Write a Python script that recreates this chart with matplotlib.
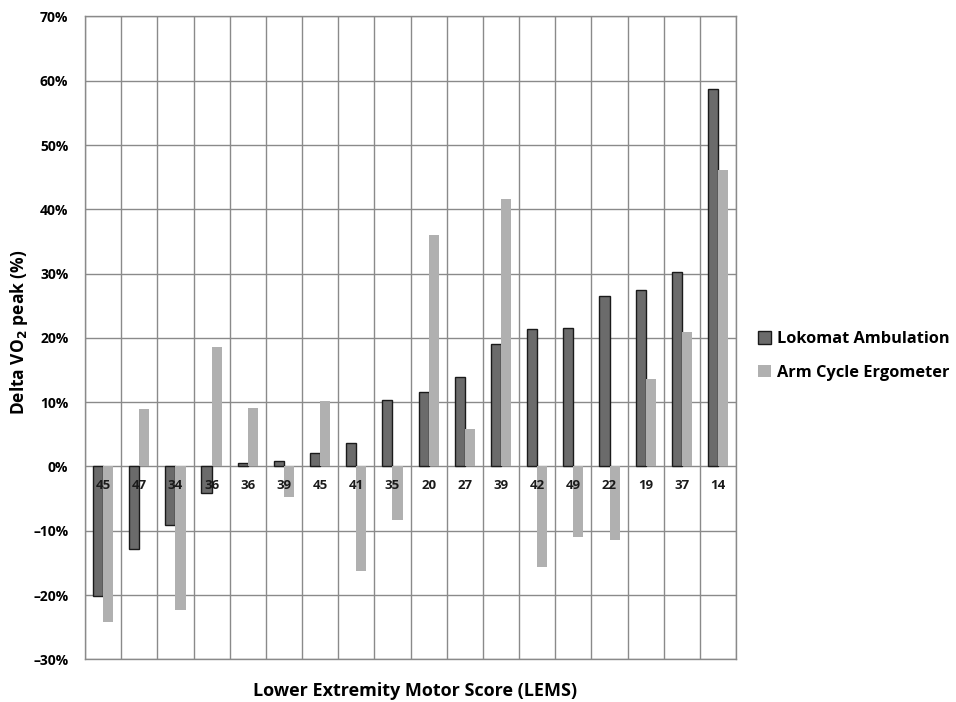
import matplotlib.pyplot as plt
import numpy as np
from matplotlib.patches import Patch
from matplotlib.ticker import FuncFormatter

plt.rcParams["font.family"] = ["Open Sans", "DejaVu Sans"]
plt.rcParams["font.weight"] = "bold"

LEMS = ["45", "47", "34", "36", "36", "39", "45", "41", "35",
        "20", "27", "39", "42", "49", "22", "19", "37", "14"]
LOKOMAT = [-20.2, -12.8, -9.1, -4.2, 0.6, 0.8, 2.1, 3.6, 10.3,
           11.6, 13.9, 19.1, 21.4, 21.5, 26.5, 27.5, 30.2, 58.7]
ARM_CYCLE = [-24.2, 8.9, -22.3, 18.6, 9.1, -4.8, 10.2, -16.2, -8.3,
             36.0, 5.9, 41.6, -15.6, -10.9, -11.5, 13.6, 20.9, 46.1]

DARK = "#6b6b6b"
LIGHT = "#b0b0b0"
GRID = "#8a8a8a"


def main():
    fig = plt.figure(figsize=(9.56, 7.02), dpi=100)
    ax = fig.add_axes([0.0889, 0.0608, 0.6811, 0.9157])

    x = np.arange(len(LEMS))
    width = 0.28
    ax.bar(x - width / 2, LOKOMAT, width, color=DARK, edgecolor="#1a1a1a",
           linewidth=1.0, zorder=3)
    ax.bar(x + width / 2, ARM_CYCLE, width, color=LIGHT, linewidth=0, zorder=3)

    ax.set_xlim(-0.5, len(LEMS) - 0.5)
    ax.set_ylim(-30, 70)
    ax.set_yticks(np.arange(-30, 71, 10))
    ax.yaxis.set_major_formatter(
        FuncFormatter(lambda v, _: f"{v:.0f}%".replace("-", "\u2013")))
    ax.set_xticks(np.arange(-0.5, len(LEMS), 1.0))
    ax.set_xticklabels([])
    ax.tick_params(length=0, labelsize=10, pad=12)
    for lab in ax.get_yticklabels():
        lab.set_fontweight("bold")

    ax.grid(True, color=GRID, linewidth=1.0, zorder=0)
    for spine in ax.spines.values():
        spine.set_color(GRID)
        spine.set_linewidth(1.0)

    for xi, lab in zip(x, LEMS):
        ax.text(xi, -2.9, lab, ha="center", va="center", fontsize=9.5,
                fontweight="bold", color="#1a1a1a", zorder=5)

    fig.text(0.020, 0.527, "Delta VO$_2$ peak (%)", rotation=90, ha="center",
             va="center", fontsize=12.5, fontweight="bold")
    fig.text(0.434, 0.015, "Lower Extremity Motor Score (LEMS)", ha="center",
             va="center", fontsize=13, fontweight="bold")

    handles = [
        Patch(facecolor=DARK, edgecolor="#1a1a1a", linewidth=1.0,
              label="Lokomat Ambulation"),
        Patch(facecolor=LIGHT, linewidth=0, label="Arm Cycle Ergometer"),
    ]
    fig.legend(handles=handles, loc="center left", bbox_to_anchor=(0.793, 0.493),
               frameon=False, prop={"size": 11.8, "weight": "bold"},
               borderpad=0, borderaxespad=0,
               handlelength=0.8, handleheight=0.8, handletextpad=0.35,
               labelspacing=1.05)

    fig.savefig("out.png", dpi=100)
    plt.close(fig)


if __name__ == "__main__":
    main()
